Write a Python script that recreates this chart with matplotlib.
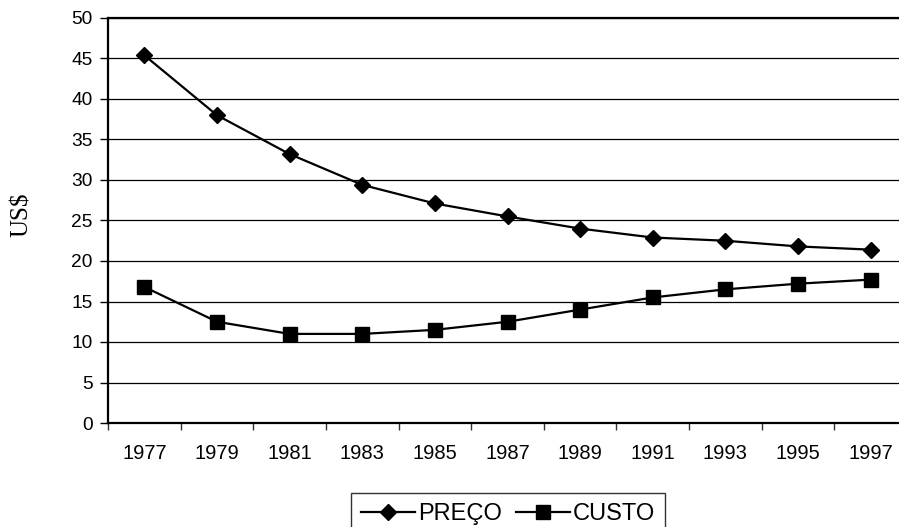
import matplotlib
matplotlib.use("Agg")
import matplotlib.pyplot as plt
from matplotlib.ticker import FixedLocator

years = ["1977", "1979", "1981", "1983", "1985", "1987", "1989", "1991", "1993", "1995", "1997"]
preco = [45.4, 38.0, 33.2, 29.4, 27.1, 25.5, 24.0, 22.9, 22.5, 21.8, 21.4]
custo = [16.8, 12.5, 11.0, 11.0, 11.5, 12.5, 14.0, 15.5, 16.5, 17.2, 17.7]
yticks = [0, 5, 10, 15, 20, 25, 30, 35, 40, 45, 50]

W, H = 899, 527
fig = plt.figure(figsize=(W / 100, H / 100), dpi=100)
ax = fig.add_axes([108 / W, 1 - 423 / H, (907 - 108) / W, (423 - 18) / H])

x = list(range(len(years)))
l1, = ax.plot(x, preco, color="black", lw=1.6, marker="D", ms=7.8, label="PREÇO", clip_on=False)
l2, = ax.plot(x, custo, color="black", lw=1.6, marker="s", ms=10, label="CUSTO", clip_on=False)

ax.set_xlim(-0.5, len(years) - 0.5)
ax.set_ylim(0, 50)
ax.set_yticks(yticks)
ax.set_yticklabels([str(v) for v in yticks], fontfamily="Liberation Sans", fontsize=13.8)
ax.set_xticks(x)
ax.set_xticklabels(years, fontfamily="Liberation Sans", fontsize=14.5)
ax.xaxis.set_minor_locator(FixedLocator([i - 0.5 for i in range(len(years) + 1)]))
ax.tick_params(axis="x", which="major", length=0, pad=15)
ax.tick_params(axis="x", which="minor", length=5, width=1, color="#333333", direction="out")
ax.tick_params(axis="y", which="major", length=6, width=1, direction="out", pad=5)

ax.yaxis.grid(True, color="black", lw=0.9)
ax.set_axisbelow(True)
for s in ax.spines.values():
    s.set_linewidth(1.6)
    s.set_color("black")

fig.text(22 / W, 1 - 215 / H, "US$", rotation=90, ha="center", va="center",
         fontfamily="Liberation Serif", fontsize=18)

leg = fig.legend(handles=[l1, l2], loc="upper center", bbox_to_anchor=(508 / W, 1 - 493 / H),
                 ncol=2, frameon=True, fancybox=False,
                 prop={"family": "Liberation Sans", "size": 17},
                 handlelength=2.3, handletextpad=0.12, columnspacing=0.6, borderpad=0.42,
                 borderaxespad=0)
leg.get_frame().set_edgecolor("black")
leg.get_frame().set_linewidth(1.0)

fig.savefig("out.png", dpi=100)
